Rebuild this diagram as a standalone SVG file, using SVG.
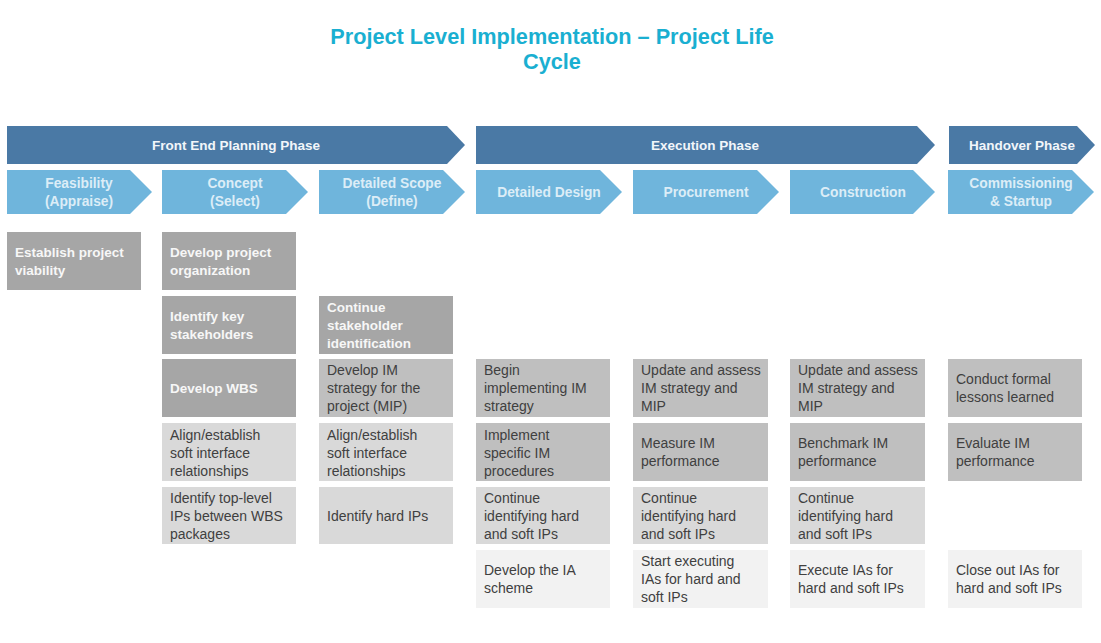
<svg xmlns="http://www.w3.org/2000/svg" width="1101" height="643" viewBox="0 0 1101 643">
<style>
.title{font-family:"Liberation Sans",Arial,sans-serif;font-weight:bold;font-size:21.7px;fill:#1aafd1;text-anchor:middle}
.phase{fill:#4a79a5}
.sub{fill:#6fb5dc}
.pt{font-family:"Liberation Sans",Arial,sans-serif;font-weight:bold;font-size:13.5px;fill:#f2f6fa;text-anchor:middle}
.st{font-family:"Liberation Sans",Arial,sans-serif;font-weight:bold;font-size:13.8px;fill:#dcedf7;text-anchor:middle}
.dk{fill:#a6a6a6}
.md{fill:#bfbfbf}
.lt{fill:#d9d9d9}
.vl{fill:#f2f2f2}
.bw{font-family:"Liberation Sans",Arial,sans-serif;font-weight:bold;font-size:13.5px;fill:#f7f7f7}
.bt{font-family:"Liberation Sans",Arial,sans-serif;font-size:14px;fill:#404040}
</style>
<rect width="1101" height="643" fill="#ffffff"/>
<g id="title">
<text class="title" x="552" y="44">Project Level Implementation – Project Life</text>
<text class="title" x="552" y="69">Cycle</text>
</g>
<g id="phase-frontend"><polygon class="phase" points="7,126 447,126 465,145 447,164 7,164"/><text class="pt" x="236" y="150">Front End Planning Phase</text></g>
<g id="phase-execution"><polygon class="phase" points="476,126 917,126 935,145 917,164 476,164"/><text class="pt" x="705" y="150">Execution Phase</text></g>
<g id="phase-handover"><polygon class="phase" points="949,126 1077,126 1095,145 1077,164 949,164"/><text class="pt" x="1022" y="150">Handover Phase</text></g>

<g id="sub-feasibility"><polygon class="sub" points="7,170 130,170 152,192 130,214 7,214"/><text class="st" x="79" y="188">Feasibility</text><text class="st" x="79" y="206">(Appraise)</text></g>
<g id="sub-concept"><polygon class="sub" points="162,170 286,170 308,192 286,214 162,214"/><text class="st" x="235" y="188">Concept</text><text class="st" x="235" y="206">(Select)</text></g>
<g id="sub-scope"><polygon class="sub" points="319,170 443,170 465,192 443,214 319,214"/><text class="st" x="392" y="188">Detailed Scope</text><text class="st" x="392" y="206">(Define)</text></g>
<g id="sub-design"><polygon class="sub" points="476,170 600,170 622,192 600,214 476,214"/><text class="st" x="549" y="197">Detailed Design</text></g>
<g id="sub-procurement"><polygon class="sub" points="633,170 757,170 779,192 757,214 633,214"/><text class="st" x="706" y="197">Procurement</text></g>
<g id="sub-construction"><polygon class="sub" points="790,170 913,170 935,192 913,214 790,214"/><text class="st" x="863" y="197">Construction</text></g>
<g id="sub-commissioning"><polygon class="sub" points="948,170 1072,170 1094,192 1072,214 948,214"/><text class="st" x="1021" y="188">Commissioning</text><text class="st" x="1021" y="206">&amp; Startup</text></g>

<!-- column 1 -->
<g id="c1r1"><rect class="dk" x="7" y="232" width="134" height="58"/><text class="bw" x="15" y="257">Establish project<tspan x="15" dy="18">viability</tspan></text></g>
<!-- column 2 -->
<g id="c2r1"><rect class="dk" x="162" y="232" width="134" height="58"/><text class="bw" x="170" y="257">Develop project<tspan x="170" dy="18">organization</tspan></text></g>
<g id="c2r2"><rect class="dk" x="162" y="296" width="134" height="58"/><text class="bw" x="170" y="321">Identify key<tspan x="170" dy="18">stakeholders</tspan></text></g>
<g id="c2r3"><rect class="dk" x="162" y="359" width="134" height="58"/><text class="bw" x="170" y="393">Develop WBS</text></g>
<g id="c2r4"><rect class="lt" x="162" y="423" width="134" height="58"/><text class="bt" x="170" y="440">Align/establish<tspan x="170" dy="18">soft interface</tspan><tspan x="170" dy="18">relationships</tspan></text></g>
<g id="c2r5"><rect class="lt" x="162" y="487" width="134" height="57"/><text class="bt" x="170" y="503">Identify top-level<tspan x="170" dy="18">IPs between WBS</tspan><tspan x="170" dy="18">packages</tspan></text></g>
<!-- column 3 -->
<g id="c3r2"><rect class="dk" x="319" y="296" width="134" height="58"/><text class="bw" x="327" y="312">Continue<tspan x="327" dy="18">stakeholder</tspan><tspan x="327" dy="18">identification</tspan></text></g>
<g id="c3r3"><rect class="md" x="319" y="359" width="134" height="58"/><text class="bt" x="327" y="375">Develop IM<tspan x="327" dy="18">strategy for the</tspan><tspan x="327" dy="18">project (MIP)</tspan></text></g>
<g id="c3r4"><rect class="lt" x="319" y="423" width="134" height="58"/><text class="bt" x="327" y="440">Align/establish<tspan x="327" dy="18">soft interface</tspan><tspan x="327" dy="18">relationships</tspan></text></g>
<g id="c3r5"><rect class="lt" x="319" y="487" width="134" height="57"/><text class="bt" x="327" y="521">Identify hard IPs</text></g>
<!-- column 4 -->
<g id="c4r3"><rect class="md" x="476" y="359" width="134" height="58"/><text class="bt" x="484" y="375">Begin<tspan x="484" dy="18">implementing IM</tspan><tspan x="484" dy="18">strategy</tspan></text></g>
<g id="c4r4"><rect class="md" x="476" y="423" width="134" height="58"/><text class="bt" x="484" y="440">Implement<tspan x="484" dy="18">specific IM</tspan><tspan x="484" dy="18">procedures</tspan></text></g>
<g id="c4r5"><rect class="lt" x="476" y="487" width="134" height="57"/><text class="bt" x="484" y="503">Continue<tspan x="484" dy="18">identifying hard</tspan><tspan x="484" dy="18">and soft IPs</tspan></text></g>
<g id="c4r6"><rect class="vl" x="476" y="550" width="134" height="58"/><text class="bt" x="484" y="575">Develop the IA<tspan x="484" dy="18">scheme</tspan></text></g>
<!-- column 5 -->
<g id="c5r3"><rect class="md" x="633" y="359" width="135" height="58"/><text class="bt" x="641" y="375">Update and assess<tspan x="641" dy="18">IM strategy and</tspan><tspan x="641" dy="18">MIP</tspan></text></g>
<g id="c5r4"><rect class="md" x="633" y="423" width="135" height="58"/><text class="bt" x="641" y="448">Measure IM<tspan x="641" dy="18">performance</tspan></text></g>
<g id="c5r5"><rect class="lt" x="633" y="487" width="135" height="57"/><text class="bt" x="641" y="503">Continue<tspan x="641" dy="18">identifying hard</tspan><tspan x="641" dy="18">and soft IPs</tspan></text></g>
<g id="c5r6"><rect class="vl" x="633" y="550" width="135" height="58"/><text class="bt" x="641" y="566">Start executing<tspan x="641" dy="18">IAs for hard and</tspan><tspan x="641" dy="18">soft IPs</tspan></text></g>
<!-- column 6 -->
<g id="c6r3"><rect class="md" x="790" y="359" width="135" height="58"/><text class="bt" x="798" y="375">Update and assess<tspan x="798" dy="18">IM strategy and</tspan><tspan x="798" dy="18">MIP</tspan></text></g>
<g id="c6r4"><rect class="md" x="790" y="423" width="135" height="58"/><text class="bt" x="798" y="448">Benchmark IM<tspan x="798" dy="18">performance</tspan></text></g>
<g id="c6r5"><rect class="lt" x="790" y="487" width="135" height="57"/><text class="bt" x="798" y="503">Continue<tspan x="798" dy="18">identifying hard</tspan><tspan x="798" dy="18">and soft IPs</tspan></text></g>
<g id="c6r6"><rect class="vl" x="790" y="550" width="135" height="58"/><text class="bt" x="798" y="575">Execute IAs for<tspan x="798" dy="18">hard and soft IPs</tspan></text></g>
<!-- column 7 -->
<g id="c7r3"><rect class="md" x="948" y="359" width="134" height="58"/><text class="bt" x="956" y="384">Conduct formal<tspan x="956" dy="18">lessons learned</tspan></text></g>
<g id="c7r4"><rect class="md" x="948" y="423" width="134" height="58"/><text class="bt" x="956" y="448">Evaluate IM<tspan x="956" dy="18">performance</tspan></text></g>
<g id="c7r6"><rect class="vl" x="948" y="550" width="134" height="58"/><text class="bt" x="956" y="575">Close out IAs for<tspan x="956" dy="18">hard and soft IPs</tspan></text></g>
<g id="connectors"></g>
</svg>
